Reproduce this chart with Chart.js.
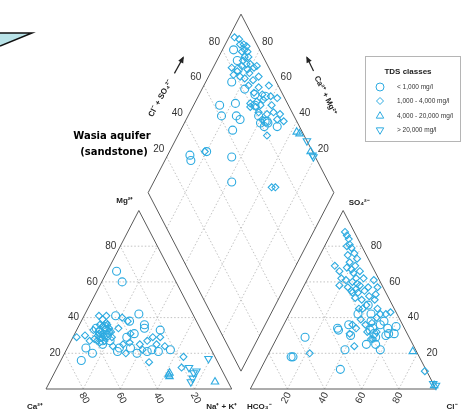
<!DOCTYPE html>
<html>
<head>
<meta charset="utf-8">
<script src="https://cdn.jsdelivr.net/npm/chart.js@4.4.1/dist/chart.umd.min.js"></script>
<style>
  html, body { margin: 0; padding: 0; background: #fff; }
</style>
</head>
<body>
<canvas id="myChart" width="463" height="415"></canvas>
<script>
const tickValues = [20, 40, 60, 80];

const classLabels = ["< 1,000 mg/l", "1,000 - 4,000 mg/l", "4,000 - 20,000 mg/l", "> 20,000 mg/l"];

// cation triangle: [Mg %, Na+K %]
const cationLow = [[66,5],[60,11],[42,29],[16,11],[36,35],[34,36],[41,17],[38,26],[21,50],[22,56],[33,45],[29,15],[33,16],[25,18],[23,28],[23,34],[20,39],[21,44],[34,10],[27,21],[29,29],[23,10],[20,15],[21,28],[31,32],[22,46],[32,13],[30,18],[35,14],[27,17]];
const cationMid = [[29,2],[30,6],[41,8],[41,12],[40,21],[38,25],[36,11],[34,15],[32,18],[31,15],[29,21],[27,14],[24,24],[25,29],[26,32],[25,38],[27,41],[29,43],[25,47],[24,52],[15,48],[18,65],[12,67],[27,10],[20,33],[31,30],[22,41],[29,47],[34,22],[39,11],[37,14],[33,9],[33,12],[31,13],[30,16],[28,12],[35,13],[29,17],[26,16],[32,19],[27,18],[34,17],[36,15],[30,13]];
const cationHigh = [[9,62],[7,63],[4,89],[8,62]];
const cationVeryHigh = [[17,79],[10,76],[9,75],[6,76],[4,76],[12,71]];

// anion triangle: [SO4 %, Cl %]
const anionLow = [[47,40],[42,37],[42,44],[38,46],[34,49],[33,48],[31,51],[29,53],[25,50],[25,55],[36,52],[38,53],[34,57],[31,59],[35,61],[31,62],[22,59],[30,58],[36,35],[34,30],[33,31],[30,39],[22,40],[29,15],[18,14],[18,13],[11,43]];
const anionMid = [[88,7],[86,9],[84,11],[81,13],[80,12],[79,15],[76,18],[75,15],[73,21],[71,18],[69,22],[68,18],[67,21],[66,26],[65,23],[69,11],[66,15],[62,18],[61,21],[62,26],[62,30],[58,19],[57,24],[60,25],[59,28],[58,30],[56,29],[55,27],[54,28],[55,34],[57,35],[61,36],[57,40],[53,41],[52,38],[47,39],[50,42],[45,38],[54,31],[45,36],[51,31],[50,35],[36,37],[34,40],[31,38],[24,44],[20,22],[36,44],[37,47],[40,48],[42,49],[42,52],[43,54],[32,52],[28,52],[28,51],[32,47],[45,46],[39,40],[10,89]];
const anionHigh = [[21,77],[2,98]];
const anionVeryHigh = [[3,97],[2,99]];

// diamond: [Ca+Mg %, Cl+SO4 %]
const diamondLow = [[94,86],[89,85],[86,83],[86,76],[77,81],[70,85],[64,90],[67,82],[62,81],[57,83],[59,80],[55,84],[56,81],[56,84],[49,88],[86,63],[82,61],[74,69],[71,70],[78,72],[72,63],[88,33],[86,32],[80,43],[65,55],[58,48]];
const diamondMid = [[97,90],[94,92],[92,91],[90,93],[88,94],[88,92],[86,93],[89,90],[86,90],[84,92],[86,88],[83,89],[81,91],[85,86],[81,88],[78,92],[77,94],[90,80],[86,82],[83,82],[87,79],[79,88],[73,92],[75,88],[80,84],[76,84],[70,89],[65,95],[71,85],[66,89],[61,93],[57,96],[70,80],[67,84],[64,88],[69,79],[66,82],[64,85],[63,82],[58,91],[55,90],[58,86],[59,82],[52,80],[47,93],[51,93],[51,90],[81,42],[35,68],[33,70]];
const diamondHigh = [[37,97],[35,98],[24,99]];
const diamondVeryHigh = [[29,100],[21,99],[22,99]];

const H = 86.6;
const GAP = 10;
const markerColor = "#2eabe1";

function cationXY([mg, na]) {
  return { x: na + mg / 2, y: (mg * H) / 100 };
}
function anionXY([so4, cl]) {
  return { x: 100 + GAP + cl + so4 / 2, y: (so4 * H) / 100 };
}
function diamondXY([cm, cs]) {
  return { x: 100 + GAP / 2 - cm / 2 + cs / 2, y: (GAP * H) / 100 + ((cm + cs) * H) / 100 };
}

const BREAK = { x: NaN, y: NaN };

// outlines
const outline = [];
[cationXY, anionXY].forEach((f) => {
  outline.push(f([0, 0]), f([0, 100]), f([100, 0]), f([0, 0]), BREAK);
});
outline.push(diamondXY([0, 0]), diamondXY([100, 0]), diamondXY([100, 100]), diamondXY([0, 100]), diamondXY([0, 0]));

// grid
const grid = [];
tickValues.forEach((v) => {
  [cationXY, anionXY].forEach((f) => {
    grid.push(f([v, 0]), f([v, 100 - v]), BREAK);
    grid.push(f([0, v]), f([100 - v, v]), BREAK);
    grid.push(f([0, 100 - v]), f([100 - v, 0]), BREAK);
  });
  grid.push(diamondXY([v, 0]), diamondXY([v, 100]), BREAK);
  grid.push(diamondXY([0, v]), diamondXY([100, v]), BREAK);
});

const classes = [
  { cat: cationLow, an: anionLow, dia: diamondLow, style: "circle", r: 4, rot: 0 },
  { cat: cationMid, an: anionMid, dia: diamondMid, style: "rectRot", r: 3.5, rot: 0 },
  { cat: cationHigh, an: anionHigh, dia: diamondHigh, style: "triangle", r: 4.3, rot: 0 },
  { cat: cationVeryHigh, an: anionVeryHigh, dia: diamondVeryHigh, style: "triangle", r: 4.3, rot: 180 },
];

const markerSets = classes.map((c, i) => ({
  label: classLabels[i],
  data: [...c.cat.map(cationXY), ...c.an.map(anionXY), ...c.dia.map(diamondXY)],
  pointStyle: c.style,
  pointRadius: c.r,
  pointRotation: c.rot,
  pointBorderWidth: 1.1,
  borderColor: markerColor,
  backgroundColor: "rgba(0,0,0,0)",
  clip: false,
  order: 0,
}));

const labelsPlugin = {
  id: "piperLabels",
  afterDatasetsDraw(chart) {
    const ctx = chart.ctx;
    const xs = chart.scales.x;
    const ys = chart.scales.y;
    const px = (p) => ({ x: xs.getPixelForValue(p.x), y: ys.getPixelForValue(p.y) });
    const deg = Math.PI / 180;

    ctx.save();

    // callout tip cut off at the top left
    ctx.beginPath();
    ctx.moveTo(0, 33);
    ctx.lineTo(32, 33);
    ctx.lineTo(0, 46);
    ctx.closePath();
    ctx.fillStyle = "#b9e3e8";
    ctx.fill();
    ctx.beginPath();
    ctx.moveTo(0, 33);
    ctx.lineTo(32, 33);
    ctx.lineTo(0, 46);
    ctx.strokeStyle = "#111";
    ctx.lineWidth = 1.5;
    ctx.stroke();

    // tick labels
    ctx.fillStyle = "#333";
    ctx.font = '10px "Liberation Sans", Arial, sans-serif';
    ctx.textBaseline = "middle";
    tickValues.forEach((v) => {
      let p = px(cationXY([v, 0]));
      ctx.textAlign = "right";
      ctx.fillText(String(v), p.x - 4, p.y);

      p = px(anionXY([v, 100 - v]));
      ctx.textAlign = "left";
      ctx.fillText(String(v), p.x + 9, p.y);

      ctx.textAlign = "center";
      p = px(diamondXY([100, v]));
      ctx.fillText(String(v), p.x - 8, p.y - 8);
      p = px(diamondXY([v, 100]));
      ctx.fillText(String(v), p.x + 8, p.y - 8);

      p = px(cationXY([0, 100 - v]));
      ctx.save();
      ctx.translate(p.x + 1, p.y + 9);
      ctx.rotate(62 * deg);
      ctx.fillText(String(v), 0, 0);
      ctx.restore();

      p = px(anionXY([0, v]));
      ctx.save();
      ctx.translate(p.x - 1, p.y + 9);
      ctx.rotate(-62 * deg);
      ctx.fillText(String(v), 0, 0);
      ctx.restore();
    });

    // corner labels
    ctx.fillStyle = "#222";
    ctx.font = 'bold 8px "Liberation Sans", Arial, sans-serif';
    ctx.textAlign = "center";
    const corner = (text, p, dx, dy) => ctx.fillText(text, p.x + dx, p.y + dy);
    corner("Mg²⁺", px(cationXY([100, 0])), -14, -10);
    corner("Ca²⁺", px(cationXY([0, 0])), -11, 18);
    corner("Na⁺ + K⁺", px(cationXY([0, 100])), -10, 18);
    corner("SO₄²⁻", px(anionXY([100, 0])), 16, -8);
    corner("HCO₃⁻", px(anionXY([0, 0])), 9, 18);
    corner("Cl⁻", px(anionXY([0, 100])), 16, 18);

    // diamond axis titles with arrows
    const axisTitle = (text, p, angle, arrowAfter) => {
      ctx.save();
      ctx.translate(p.x, p.y);
      ctx.rotate(angle * deg);
      ctx.fillText(text, 0, 0);
      const w = ctx.measureText(text).width;
      const a0 = arrowAfter ? w / 2 + 8 : -(w / 2 + 6);
      const a1 = arrowAfter ? w / 2 + 26 : -(w / 2 + 21);
      const dir = arrowAfter ? 1 : -1;
      ctx.strokeStyle = "#222";
      ctx.lineWidth = 1.2;
      ctx.beginPath();
      ctx.moveTo(a0, 0);
      ctx.lineTo(a1, 0);
      ctx.stroke();
      ctx.beginPath();
      ctx.moveTo(a1 + dir * 1.5, 0);
      ctx.lineTo(a1 - dir * 5, -2.8);
      ctx.lineTo(a1 - dir * 5, 2.8);
      ctx.closePath();
      ctx.fillStyle = "#222";
      ctx.fill();
      ctx.restore();
    };
    const ul = px(diamondXY([100, 50]));
    const ur = px(diamondXY([50, 100]));
    axisTitle("Cl⁻ + SO₄²⁻", { x: ul.x - 34, y: ul.y - 5 }, -61, true);
    axisTitle("Ca²⁺ + Mg²⁺", { x: ur.x + 38, y: ur.y - 8 }, 64, false);

    // aquifer name
    ctx.fillStyle = "#000";
    ctx.font = 'bold 10px "DejaVu Sans", Verdana, sans-serif';
    ctx.fillText("Wasia aquifer", 112, 136);
    ctx.fillText("(sandstone)", 114, 152);

    // legend box
    ctx.strokeStyle = "#b5b5b5";
    ctx.lineWidth = 1;
    ctx.strokeRect(365.5, 56.5, 95, 85);
    ctx.fillStyle = "#222";
    ctx.font = 'bold 8px "Liberation Sans", Arial, sans-serif';
    ctx.fillText("TDS classes", 408, 72);
    ctx.font = '6.5px "Liberation Sans", Arial, sans-serif';
    ctx.textAlign = "left";
    const rowY = [87, 101, 116, 130];
    classes.forEach((c, i) => {
      ctx.strokeStyle = markerColor;
      ctx.fillStyle = "rgba(0,0,0,0)";
      Chart.helpers.drawPoint(ctx, { pointStyle: c.style, radius: c.r, rotation: c.rot, borderWidth: 1 }, 380, rowY[i]);
      ctx.fillStyle = "#333";
      ctx.fillText(classLabels[i], 397, rowY[i]);
    });

    ctx.restore();
  },
};

const ctx = document.getElementById("myChart");

new Chart(ctx, {
  type: "scatter",
  data: {
    datasets: [
      ...markerSets,
      {
        label: "outline",
        data: outline,
        showLine: true,
        spanGaps: false,
        borderColor: "#5a5a5a",
        borderWidth: 1,
        pointRadius: 0,
        clip: false,
        order: 1,
      },
      {
        label: "grid",
        data: grid,
        showLine: true,
        spanGaps: false,
        borderColor: "#b4b4b4",
        borderWidth: 0.8,
        borderDash: [1.5, 2],
        pointRadius: 0,
        clip: false,
        order: 2,
      },
    ],
  },
  options: {
    responsive: false,
    animation: false,
    events: [],
    layout: { padding: { left: 46, right: 27, top: 0, bottom: 26 } },
    scales: {
      x: { type: "linear", min: 0, max: 210, display: false },
      y: { type: "linear", min: 0, max: 186.1, display: false },
    },
    plugins: {
      legend: { display: false },
      tooltip: { enabled: false },
    },
  },
  plugins: [labelsPlugin],
});
</script>
</body>
</html>
